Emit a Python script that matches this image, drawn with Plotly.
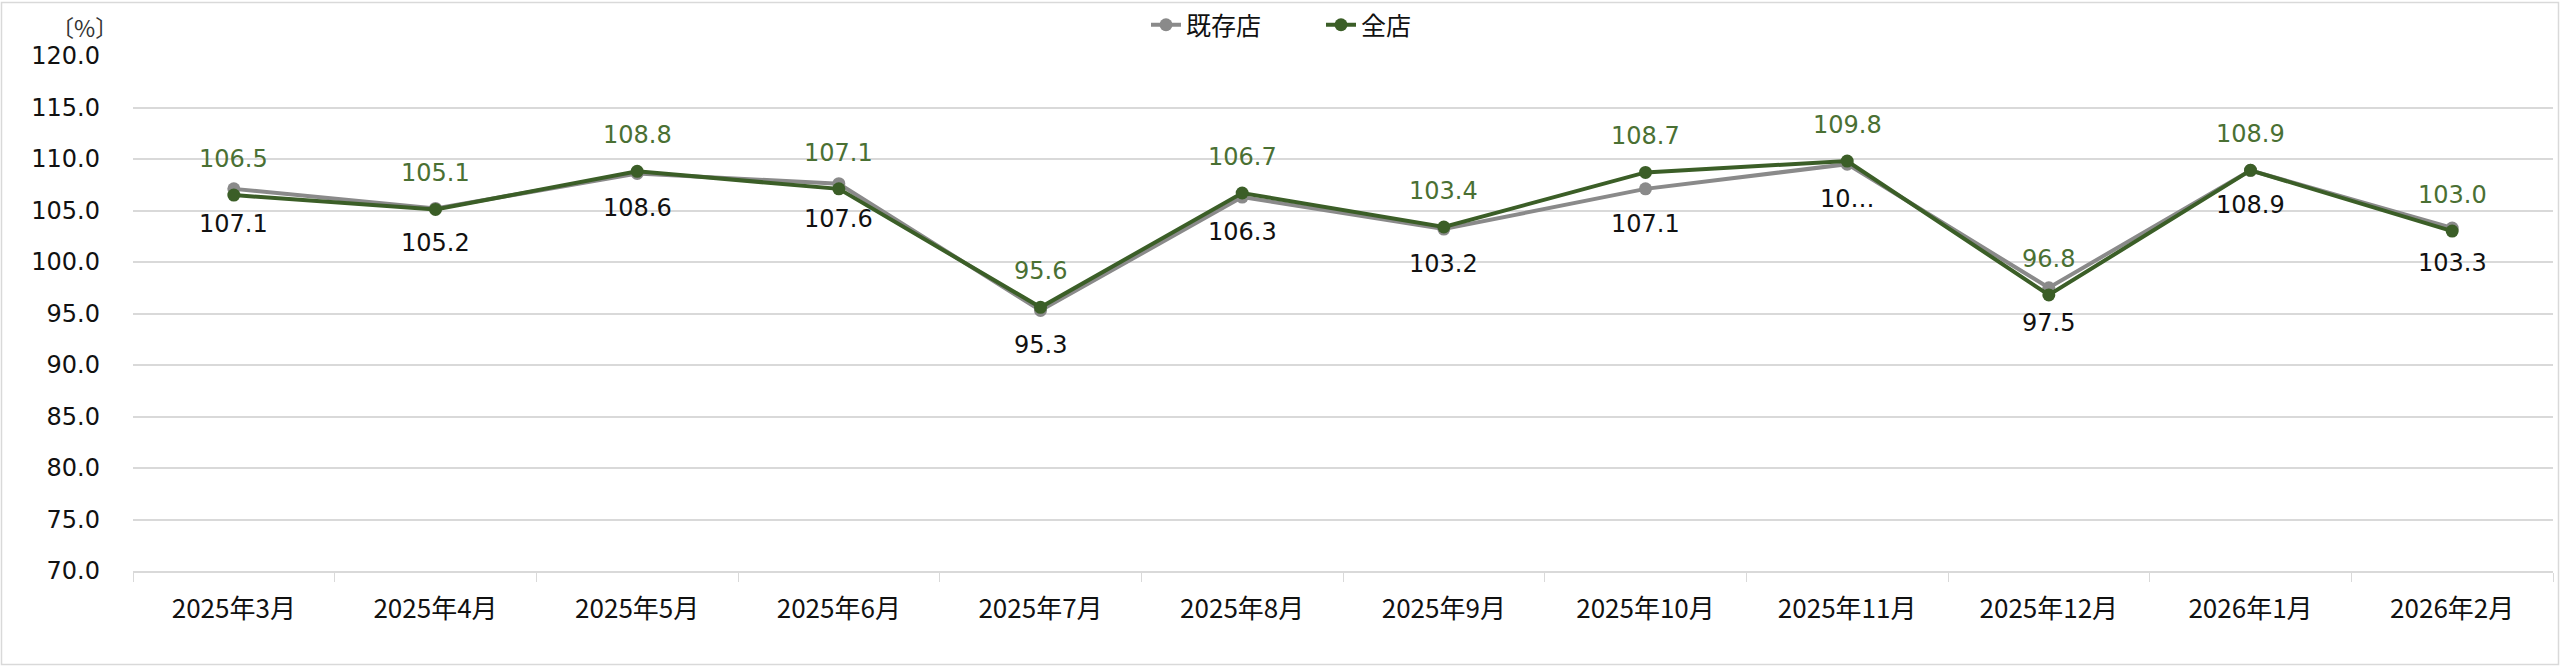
import plotly.graph_objects as go

months = ['2025年3月', '2025年4月', '2025年5月', '2025年6月', '2025年7月', '2025年8月',
          '2025年9月', '2025年10月', '2025年11月', '2025年12月', '2026年1月', '2026年2月']
existing = [107.1, 105.2, 108.6, 107.6, 95.3, 106.3, 103.2, 107.1, 109.5, 97.5, 108.9, 103.3]
all_stores = [106.5, 105.1, 108.8, 107.1, 95.6, 106.7, 103.4, 108.7, 109.8, 96.8, 108.9, 103.0]
y_ticks = [70, 75, 80, 85, 90, 95, 100, 105, 110, 115, 120]

# the 11月 label of 既存店 is cut off in the original chart
existing_text = [f'{v:.1f}' for v in existing]
existing_text[8] = '10…'
all_text = [f'{v:.1f}' for v in all_stores]

GRAY = '#8a8a8a'
GREEN = '#3b5e27'
GREEN_TXT = '#4a7033'
GRID = '#d9d9d9'
NUM_FONT = 'DejaVu Sans, Noto Sans CJK JP'
JP_FONT = 'Noto Sans CJK JP, DejaVu Sans'

L, R, T, B = 133, 7, 56, 95
W, H = 2560, 666
PW, PH = W - L - R, H - T - B

fig = go.Figure()
fig.add_trace(go.Scatter(x=months, y=existing, name='既存店', mode='lines+markers',
    line=dict(color=GRAY, width=4), marker=dict(color=GRAY, size=13)))
fig.add_trace(go.Scatter(x=months, y=all_stores, name='全店', mode='lines+markers',
    line=dict(color=GREEN, width=4), marker=dict(color=GREEN, size=13)))

ann = []
for m, v, t in zip(months, all_stores, all_text):
    ann.append(dict(x=m, y=v, text=t, showarrow=False, yshift=36,
                    font=dict(family=NUM_FONT, size=24, color=GREEN_TXT)))
for m, v, t in zip(months, existing, existing_text):
    ann.append(dict(x=m, y=v, text=t, showarrow=False, yshift=-35,
                    font=dict(family=NUM_FONT, size=24, color='#111111')))
ann.append(dict(xref='paper', yref='paper', x=(84 - L) / PW, y=1 + (T - 27) / PH,
                text='〔%〕', showarrow=False, xanchor='center', yanchor='middle',
                font=dict(family=JP_FONT, size=23, color='#333333')))

fig.update_layout(
    width=W, height=H,
    margin=dict(l=L, r=R, t=T, b=B, autoexpand=False),
    paper_bgcolor='white', plot_bgcolor='white',
    showlegend=True,
    legend=dict(orientation='h', x=(1321 - L) / PW, y=1 + (T - 25) / PH,
                xanchor='center', yanchor='middle',
                font=dict(family=JP_FONT, size=25, color='#111111'),
                itemwidth=30, entrywidth=130, bgcolor='rgba(0,0,0,0)'),
    annotations=ann,
    shapes=[dict(type='rect', xref='paper', yref='paper',
                 x0=(1.5 - L) / PW, x1=1 + (R - 1.5) / PW,
                 y0=-(B - 1.5) / PH, y1=1 + (T - 2.5) / PH,
                 line=dict(color=GRID, width=1.5), layer='below')],
)
fig.update_xaxes(type='category', range=[-0.5, len(months) - 0.5],
                 showgrid=False, showline=True, linecolor=GRID, linewidth=1.5,
                 ticks='outside', tickson='boundaries', ticklen=9, tickcolor=GRID,
                 ticklabelstandoff=14, automargin=False,
                 tickfont=dict(family=JP_FONT, size=26, color='#111111'))
fig.update_yaxes(range=[70, 120], tickvals=y_ticks, tickformat='.1f',
                 gridcolor=GRID, gridwidth=1.5, zeroline=False, showline=False,
                 ticklabelstandoff=32, automargin=False,
                 tickfont=dict(family=NUM_FONT, size=24, color='#111111'))

# page has a default 8px body margin; remove it so the figure fills the window
fig.write_html('out.html', config={'displayModeBar': False},
               post_script="document.body.style.margin='0';")
